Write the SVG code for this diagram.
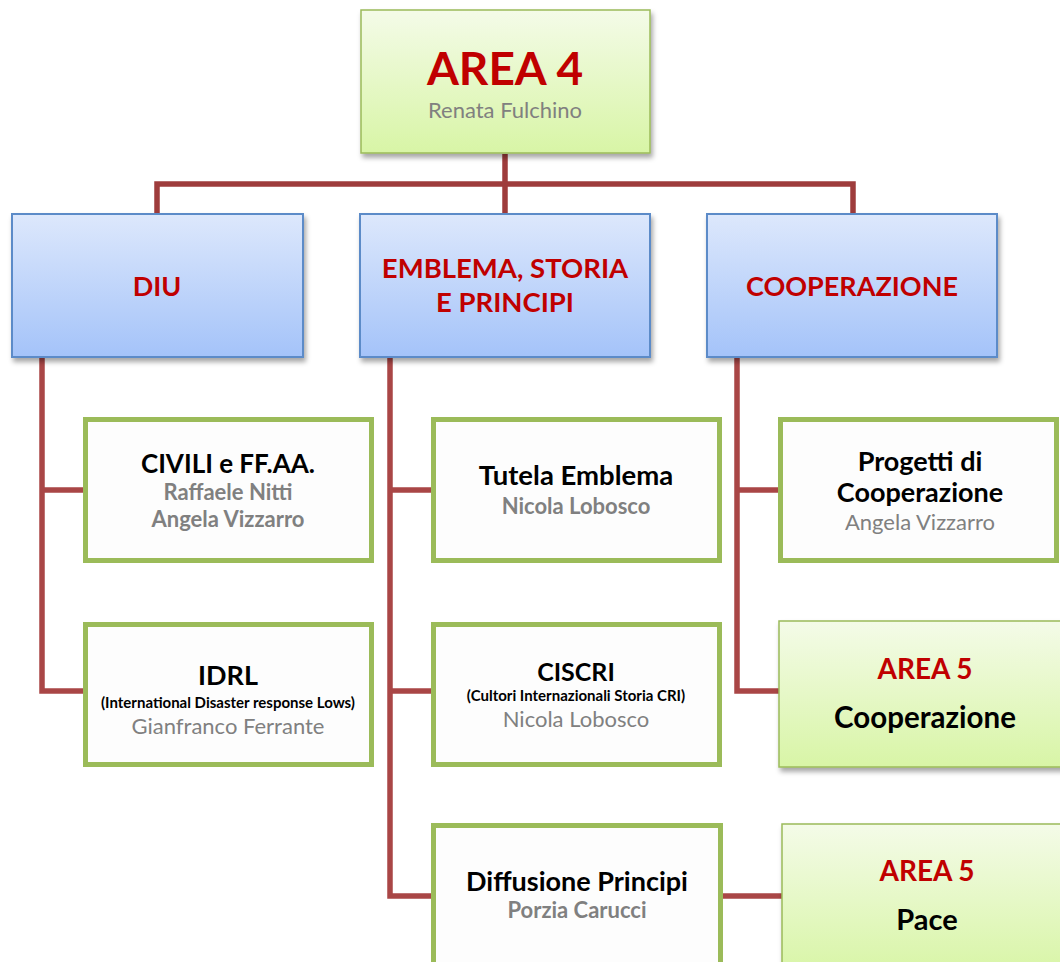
<svg xmlns="http://www.w3.org/2000/svg" width="1060" height="962" viewBox="0 0 1060 962">
<defs>
<linearGradient id="gGreen" x1="0" y1="0" x2="0" y2="1"><stop offset="0" stop-color="#f4fbe8"/><stop offset="1" stop-color="#d8f5a6"/></linearGradient>
<linearGradient id="gBlue" x1="0" y1="0" x2="0" y2="1"><stop offset="0" stop-color="#dde8fc"/><stop offset="1" stop-color="#a4c3f9"/></linearGradient>
<filter id="sh" x="-10%" y="-10%" width="125%" height="130%"><feDropShadow dx="2" dy="4" stdDeviation="2.5" flood-color="#000" flood-opacity="0.35"/></filter>
</defs>
<style>
text{font-family:Lato,"Open Sans","Liberation Sans",sans-serif;text-anchor:middle}
.area{fill:url(#gGreen);stroke:#9bbb59;stroke-width:1.5;filter:url(#sh)}
.blue{fill:url(#gBlue);stroke:#5b8bc8;stroke-width:2;filter:url(#sh)}
.leaf{fill:#fdfdfd;stroke:#9bbb59;stroke-width:5}
.red{fill:#c00000;font-weight:bold}
.blk{fill:#000;font-weight:bold}
.gb{fill:#808080;font-weight:bold}
.gr{fill:#808080}
.con{fill:none;stroke:#a94646;stroke-width:5.5;stroke-linejoin:miter}
.con2{fill:none;stroke:#9e3c3c;stroke-width:5.5}
</style>
<g id="connectors">
<path class="con2" d="M505 154V214M157 214V184H853V214"/>
<path class="con" d="M42 357V691H83M42 490H83"/>
<path class="con" d="M390 357V896H431M390 490H431M390 691H431"/>
<path class="con" d="M737 357V691H779M737 490H779"/>
<path class="con" d="M723 896H782"/>
</g>
<g id="area4"><rect class="area" x="361" y="10" width="289" height="143"/>
<text class="red" x="505" y="85" font-size="46">AREA 4</text>
<text class="gr" x="505" y="118" font-size="22">Renata Fulchino</text></g>
<g id="diu"><rect class="blue" x="12" y="214" width="291" height="143"/>
<text class="red" x="157" y="296" font-size="27">DIU</text></g>
<g id="emblema"><rect class="blue" x="360" y="214" width="290" height="143"/>
<text class="red" x="505" y="278" font-size="27.5">EMBLEMA, STORIA</text>
<text class="red" x="505" y="312" font-size="27.5">E PRINCIPI</text></g>
<g id="cooperazione"><rect class="blue" x="707" y="214" width="290" height="143"/>
<text class="red" x="852" y="296" font-size="27">COOPERAZIONE</text></g>
<g id="civili"><rect class="leaf" x="85.5" y="419.5" width="286" height="141"/>
<text class="blk" x="228" y="473" font-size="26">CIVILI e FF.AA.</text>
<text class="gb" x="228" y="500" font-size="22">Raffaele Nitti</text>
<text class="gb" x="228" y="527" font-size="22">Angela Vizzarro</text></g>
<g id="idrl"><rect class="leaf" x="85.5" y="624.5" width="286" height="140"/>
<text class="blk" x="228" y="685" font-size="27">IDRL</text>
<text class="blk" x="228" y="708" font-size="15">(International Disaster response Lows)</text>
<text class="gr" x="228" y="734" font-size="22">Gianfranco Ferrante</text></g>
<g id="tutela"><rect class="leaf" x="433.5" y="419.5" width="286" height="141"/>
<text class="blk" x="576" y="485" font-size="27.5">Tutela Emblema</text>
<text class="gb" x="576" y="514" font-size="22">Nicola Lobosco</text></g>
<g id="ciscri"><rect class="leaf" x="433.5" y="624.5" width="286" height="140"/>
<text class="blk" x="576" y="681" font-size="25">CISCRI</text>
<text class="blk" x="576" y="701" font-size="15">(Cultori Internazionali Storia CRI)</text>
<text class="gr" x="576" y="727" font-size="22">Nicola Lobosco</text></g>
<g id="diffusione"><rect class="leaf" x="433.5" y="825.5" width="287" height="150"/>
<text class="blk" x="577" y="891" font-size="27">Diffusione Principi</text>
<text class="gb" x="577" y="918" font-size="22">Porzia Carucci</text></g>
<g id="progetti"><rect class="leaf" x="780.5" y="419.5" width="276" height="141"/>
<text class="blk" x="920" y="471" font-size="27">Progetti di</text>
<text class="blk" x="920" y="502" font-size="27">Cooperazione</text>
<text class="gr" x="920" y="530" font-size="22">Angela Vizzarro</text></g>
<g id="area5coop"><rect class="area" x="779" y="621" width="300" height="146"/>
<text class="red" x="925" y="679" font-size="28">AREA 5</text>
<text class="blk" x="925" y="728" font-size="29.5">Cooperazione</text></g>
<g id="area5pace"><rect class="area" x="782" y="824" width="300" height="150"/>
<text class="red" x="927" y="881" font-size="28">AREA 5</text>
<text class="blk" x="927" y="930" font-size="29">Pace</text></g>
</svg>
